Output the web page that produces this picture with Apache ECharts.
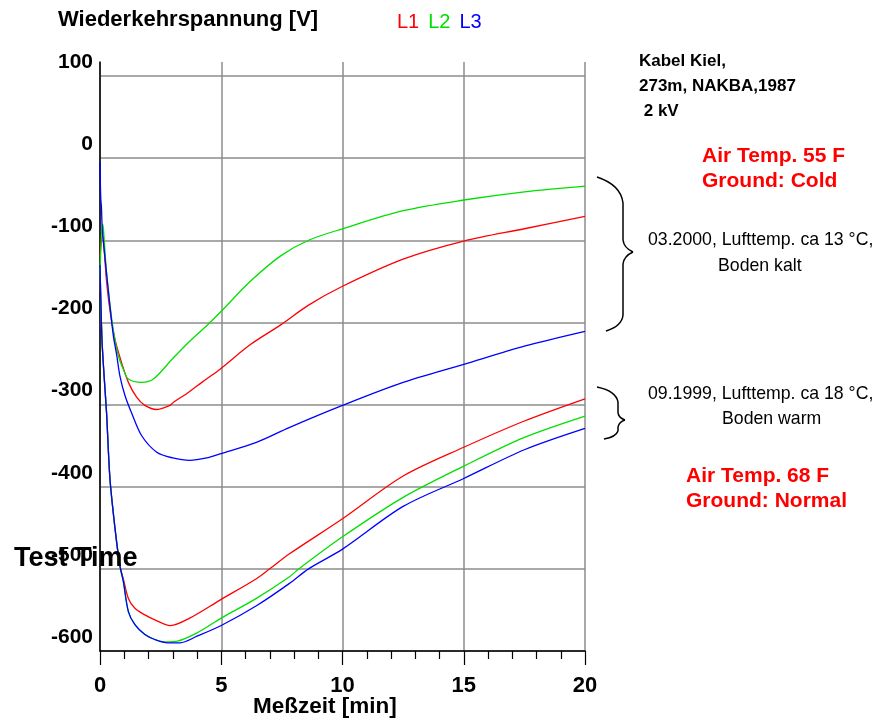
<!DOCTYPE html>
<html>
<head>
<meta charset="utf-8">
<script src="https://cdn.jsdelivr.net/npm/echarts@6/dist/echarts.min.js"></script>
<style>
  html, body { margin: 0; padding: 0; background: #fff; }
  #chart { width: 880px; height: 724px; }
</style>
</head>
<body>
<div id="chart"></div>
<script>
// [minutes, volts]
const l1_2000 = [[0,-120],[0.1,-95],[0.27,-150],[0.41,-185],[0.62,-221],[0.89,-249],[1.17,-273],[1.51,-291],[1.85,-301],[2.34,-306],[2.88,-301],[3.0,-298],[3.7,-284],[4.2,-273],[4.95,-257],[6.2,-227],[7.45,-203],[8.6,-179],[10,-156],[12.5,-123],[15,-101],[17.5,-86],[20,-71]];
const l2_2000 = [[0,-140],[0.1,-80],[0.14,-86],[0.27,-140],[0.41,-178],[0.55,-210],[0.75,-240],[0.96,-257],[1.17,-269],[1.72,-273],[2.2,-269],[3.0,-244],[3.7,-223],[4.4,-204],[4.95,-188],[6.2,-150],[7.45,-119],[8.6,-100],[10,-86],[12.5,-64],[15,-51],[17.5,-41],[20,-34]];
const l3_2000 = [[0,-5],[0.03,-48],[0.06,-60],[0.095,-87],[0.27,-140],[0.41,-180],[0.55,-216],[0.69,-240],[0.82,-265],[1.03,-289],[1.3,-310],[1.72,-338],[2.34,-358],[3.0,-365],[3.7,-368],[4.4,-365],[4.95,-360],[6.45,-346],[7.8,-328],[10,-301],[12.5,-273],[15,-251],[17.5,-229],[20,-211]];

const l1_1999 = [[0,-130],[0.08,-220],[0.18,-270],[0.27,-310],[0.41,-390],[0.62,-451],[0.82,-496],[0.96,-512],[1.17,-536],[1.44,-548],[1.85,-556],[2.26,-562],[2.9,-569],[3.7,-560],[4.95,-538],[6.45,-512],[7,-500],[7.8,-482],[10,-439],[12.5,-387],[15,-352],[17.5,-320],[20,-293]];
const l2_1999 = [[0,-130],[0.08,-220],[0.18,-270],[0.27,-310],[0.41,-390],[0.62,-451],[0.82,-496],[0.96,-515],[1.17,-552],[1.44,-568],[1.85,-580],[2.26,-586],[2.66,-589],[3.2,-588],[4,-578],[5,-560],[6.45,-536],[7.8,-510],[8.2,-500],[10,-461],[12.5,-413],[15,-375],[17.5,-340],[20,-314]];
const l3_1999 = [[0,-130],[0.08,-220],[0.18,-270],[0.27,-310],[0.41,-390],[0.62,-451],[0.82,-496],[0.96,-515],[1.17,-552],[1.44,-568],[1.85,-580],[2.26,-586],[2.8,-590],[3.3,-590],[4,-582],[5,-569],[6.45,-545],[7.8,-518],[8.6,-500],[10,-476],[12.5,-424],[15,-390],[17.5,-355],[20,-329]];

const phases = ['L1', 'L2', 'L3'];
const phaseColors = ['#ff0000', '#00e000', '#0000ff'];

const font = 'Liberation Sans, Arial, sans-serif';

const chart = echarts.init(document.getElementById('chart'));

function line(name, color, data) {
  return {
    name: name,
    type: 'line',
    data: data,
    showSymbol: false,
    smooth: 0.3,
    lineStyle: { color: color, width: 1.3 },
    itemStyle: { color: color },
    emphasis: { disabled: true }
  };
}

// curly brace: top end, upper bend, tip, lower bend, bottom end
function brace(x0, top, xs, tipX, tipY, bottom, xb) {
  const st = { stroke: '#000', lineWidth: 1.5, fill: 'none' };
  return [
    { type: 'bezierCurve', silent: true, shape: { x1: x0, y1: top, cpx1: xs - 2, cpy1: top + 8, x2: xs, y2: top + 26 }, style: st },
    { type: 'line', silent: true, shape: { x1: xs, y1: top + 26, x2: xs, y2: tipY - 12 }, style: st },
    { type: 'bezierCurve', silent: true, shape: { x1: xs, y1: tipY - 12, cpx1: xs + 1, cpy1: tipY - 4, x2: tipX, y2: tipY }, style: st },
    { type: 'bezierCurve', silent: true, shape: { x1: tipX, y1: tipY, cpx1: xs + 1, cpy1: tipY + 4, x2: xs, y2: tipY + 12 }, style: st },
    { type: 'line', silent: true, shape: { x1: xs, y1: tipY + 12, x2: xs, y2: bottom - 16 }, style: st },
    { type: 'bezierCurve', silent: true, shape: { x1: xs, y1: bottom - 16, cpx1: xs - 1, cpy1: bottom - 5, x2: xb, y2: bottom }, style: st }
  ];
}

function smallBrace() {
  const st = { stroke: '#000', lineWidth: 1.5, fill: 'none' };
  return [
    { type: 'bezierCurve', silent: true, shape: { x1: 597, y1: 387, cpx1: 616, cpy1: 391, x2: 618, y2: 402 }, style: st },
    { type: 'line', silent: true, shape: { x1: 618, y1: 402, x2: 618, y2: 413 }, style: st },
    { type: 'bezierCurve', silent: true, shape: { x1: 618, y1: 413, cpx1: 619, cpy1: 418, x2: 625, y2: 420 }, style: st },
    { type: 'bezierCurve', silent: true, shape: { x1: 625, y1: 420, cpx1: 619, cpy1: 422, x2: 618, y2: 427 }, style: st },
    { type: 'line', silent: true, shape: { x1: 618, y1: 427, x2: 618, y2: 431 }, style: st },
    { type: 'bezierCurve', silent: true, shape: { x1: 618, y1: 431, cpx1: 616, cpy1: 437, x2: 604, y2: 439 }, style: st }
  ];
}

chart.setOption({
  animation: false,
  grid: { left: 100, right: 295, top: 62, bottom: 73 },
  legend: {
    left: 387,
    top: 7,
    icon: 'none',
    itemWidth: 0,
    itemGap: 4,
    selectedMode: false,
    textStyle: { fontFamily: font, fontSize: 20 },
    data: phases.map((p, i) => ({ name: p, textStyle: { color: phaseColors[i] } }))
  },
  xAxis: {
    type: 'value',
    min: 0,
    max: 20,
    interval: 5,
    axisLine: { onZero: false, lineStyle: { color: '#000', width: 1.5 } },
    axisTick: { show: true, length: 14, lineStyle: { color: '#000', width: 1.2 } },
    minorTick: { show: true, splitNumber: 5, length: 8, lineStyle: { color: '#000', width: 1.2 } },
    axisLabel: { fontFamily: font, fontSize: 22, fontWeight: 'bold', color: '#000', margin: 24 },
    splitLine: { show: true, lineStyle: { color: '#8c8c8c', width: 1.5 } }
  },
  yAxis: {
    type: 'value',
    min: -600,
    max: 117,
    interval: 100,
    axisLine: { show: true, lineStyle: { color: '#000', width: 1.5 } },
    axisTick: { show: false },
    axisLabel: {
      fontFamily: font, fontSize: 21, fontWeight: 'bold', color: '#000',
      margin: 7, showMaxLabel: false,
      verticalAlign: 'bottom', lineHeight: 28
    },
    splitLine: { show: true, showMaxLine: false, lineStyle: { color: '#8c8c8c', width: 1.5 } }
  },
  series: [
    line('L1', phaseColors[0], l1_2000),
    line('L2', phaseColors[1], l2_2000),
    line('L3', phaseColors[2], l3_2000),
    line('L1', phaseColors[0], l1_1999),
    line('L2', phaseColors[1], l2_1999),
    line('L3', phaseColors[2], l3_1999)
  ],
  graphic: [
    { type: 'text', left: 58, top: 9, style: { text: 'Wiederkehrspannung [V]', font: 'bold 22px ' + font, fill: '#000' } },
    { type: 'text', left: 253, top: 695, style: { text: 'Meßzeit [min]', font: 'bold 22.5px ' + font, fill: '#000' } },
    { type: 'text', left: 639, top: 49, style: { text: 'Kabel Kiel,\n273m, NAKBA,1987\n 2 kV', font: 'bold 17px ' + font, lineHeight: 25, fill: '#000' } },
    { type: 'text', left: 702, top: 144, style: { text: 'Air Temp. 55 F\nGround: Cold', font: 'bold 21px ' + font, lineHeight: 24.5, fill: '#ff0000' } },
    { type: 'text', left: 648, top: 231, style: { text: '03.2000, Lufttemp. ca 13 °C,', font: '17.7px ' + font, fill: '#000' } },
    { type: 'text', left: 718, top: 257, style: { text: 'Boden kalt', font: '17.7px ' + font, fill: '#000' } },
    { type: 'text', left: 648, top: 385, style: { text: '09.1999, Lufttemp. ca 18 °C,', font: '17.7px ' + font, fill: '#000' } },
    { type: 'text', left: 722, top: 410, style: { text: 'Boden warm', font: '17.7px ' + font, fill: '#000' } },
    { type: 'text', left: 686, top: 464, style: { text: 'Air Temp. 68 F\nGround: Normal', font: 'bold 21px ' + font, lineHeight: 24.5, fill: '#ff0000' } },
    { type: 'text', left: 14, top: 545, z: 100, style: { text: 'Test Time', font: 'bold 27px ' + font, fill: '#000' } }
  ].concat(brace(597, 177, 623, 633, 252, 331, 606), smallBrace())
});
</script>
</body>
</html>
